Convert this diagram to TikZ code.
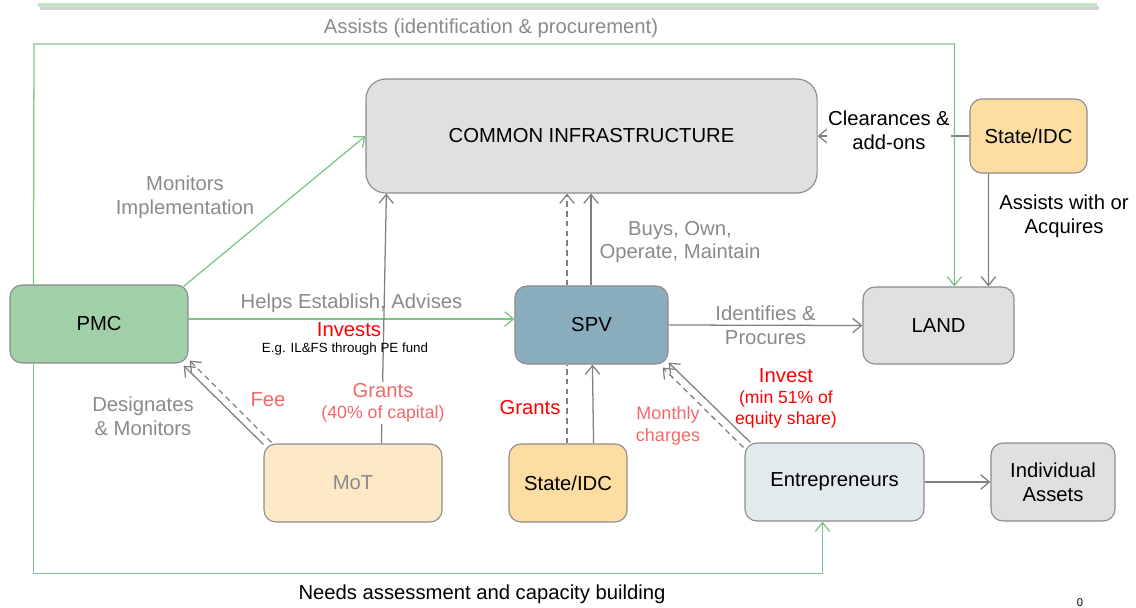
\documentclass[tikz,border=0pt]{standalone}
\usepackage{fontspec}
\setmainfont{Liberation Sans}
\usetikzlibrary{arrows.meta,calc}
\definecolor{gline}{HTML}{7DC48A}
\definecolor{topbar}{HTML}{C3E2C8}
\definecolor{aline}{HTML}{808080}
\definecolor{edge}{HTML}{8C8C8C}
\definecolor{txtgray}{HTML}{8A8A8A}
\definecolor{lightred}{HTML}{F36868}
\definecolor{pmcfill}{HTML}{A1CFA8}
\definecolor{spvfill}{HTML}{8AADBD}
\definecolor{greyfill}{HTML}{E0E0E0}
\definecolor{statefill}{HTML}{FDDDA2}
\definecolor{motfill}{HTML}{FDE9C8}
\definecolor{entfill}{HTML}{E2EAEE}
\begin{document}
\begin{tikzpicture}[x=0.025cm,y=-0.025cm,
  box/.style={draw=edge,line width=0.8pt,rounded corners=0.3cm,inner sep=0pt,
    minimum height=1.95cm,align=center,font=\fontsize{14.4}{17}\selectfont},
  lbl/.style={align=center,inner sep=1pt,font=\fontsize{14.4}{17}\selectfont},
  arrowgray/.style={draw=aline,line width=0.9pt,-{Straight Barb[length=2.2mm,width=3.6mm]}},
  arrowgreen/.style={draw=gline,line width=0.9pt,-{Straight Barb[length=2.2mm,width=3.6mm]}},
  dashgray/.style={arrowgray,dash pattern=on 4pt off 3pt}]
\useasboundingbox (0,0) rectangle (1136,607);
\draw[line width=0.12cm,black!18] (40,8) -- (1099,8);
\draw[line width=0.12cm,topbar] (38,5) -- (1097,5);

\node[box,fill=greyfill,rounded corners=0.5cm,minimum width=11.275cm,minimum height=2.85cm] (ci) at (591.5,136) {COMMON INFRASTRUCTURE};
\node[box,fill=statefill,minimum width=2.925cm,minimum height=1.85cm] (sttop) at (1028.5,136) {State/IDC};
\node[box,fill=pmcfill,minimum width=4.45cm] (pmc) at (99,324) {PMC};
\node[box,fill=spvfill,minimum width=3.825cm] (spv) at (591.5,325) {SPV};
\node[box,fill=greyfill,minimum width=3.775cm,minimum height=1.925cm] (land) at (938.5,325.5) {LAND};
\node[box,fill=motfill,text=txtgray,minimum width=4.45cm] (mot) at (353,483) {MoT};
\node[box,fill=statefill,minimum width=2.95cm] (stbot) at (568,483) {State/IDC};
\node[box,fill=entfill,minimum width=4.475cm] (ent) at (834.5,482) {Entrepreneurs};
\node[box,fill=greyfill,minimum width=3.1cm] (ind) at (1053,482) {Individual\\Assets};

\draw[arrowgray] (sttop.west) -- (ci.east);
\node[lbl,fill=white] (clr) at (889,130.5) {Clearances \&\\add-ons};
\draw[arrowgreen] ($(pmc.north west)+(24,0)$) -- (34,44) -| ($(land.north west)+(92,0)$);
\node[lbl,text=txtgray] (assist) at (491,28) {Assists (identification \& procurement)};
\draw[arrowgray] ($(sttop.south west)+(19,0)$) -- ($(land.north west)+(126,0)$);
\node[lbl] (acq) at (1064,216.5) {Assists with or\\Acquires};

\draw[arrowgreen] ($(pmc.north east)+(-5,2)$) -- (ci.west);
\node[lbl,text=txtgray] (mon) at (185,197) {Monitors\\Implementation};
\draw[arrowgreen] ($(pmc.east)+(0,-5)$) -- ($(spv.west)+(0,-6)$)
  node[midway,above=3pt,lbl,text=txtgray] (helps) {Helps Establish, Advises};

\draw[arrowgray] ($(mot.north west)+(118,0)$) -- ($(ci.south west)+(21,0)$);
\node[lbl,fill=white,text=lightred,font=\fontsize{12.6}{15}\selectfont] (grmot) at (383,403) {{\fontsize{14.4}{17}\selectfont Grants}\\(40\% of capital)};
\node[lbl,text=red] (inv) at (349,330) {Invests};
\node[lbl,font=\fontsize{9.5}{11}\selectfont] (eg) at (345,349) {E.g. IL\&FS through PE fund};

\draw[arrowgray] (spv.north -| 591,0) -- (ci.south -| 591,0);
\node[lbl,text=txtgray] (buys) at (680,242) {Buys, Own,\\Operate, Maintain};
\draw[dashgray,-] (stbot.north -| 567,0) -- (spv.south -| 567,0);
\draw[dashgray] (spv.north -| 567,0) -- (ci.south -| 567,0);
\draw[arrowgray] ($(stbot.north east)+(-34,0)$) -- ($(spv.south west)+(78,0)$);
\node[lbl,text=red] (grst) at (530,408) {Grants};

\draw[arrowgray] (spv.east) -- (land.west)
  node[midway,lbl,text=txtgray] (ident) {Identifies \&\\Procures};

\draw[arrowgray] ($(ent.north west)+(6,0)$) -- ($(spv.south east)+(0,-2)$);
\draw[dashgray] ($(ent.north west)+(-1,5)$) -- ($(spv.south east)+(-6,3)$);
\node[lbl,text=lightred,font=\fontsize{12.8}{15.5}\selectfont] (month) at (668,426) {Monthly\\charges};
\node[lbl,text=red,font=\fontsize{12.5}{15}\selectfont] (inv51) at (786,398) {{\fontsize{14.4}{17}\selectfont Invest}\\(min 51\% of\\equity share)};
\draw[arrowgray] (ent.east) -- (ind.west);

\draw[arrowgray] ($(mot.north west)+(0,1)$) -- ($(pmc.south east)+(-5,2)$);
\draw[dashgray] ($(mot.north west)+(8,-1)$) -- ($(pmc.south east)+(1,-3)$);
\node[lbl,text=txtgray] (desig) at (143,416.5) {Designates\\\& Monitors};
\node[lbl,text=lightred] (fee) at (268,400) {Fee};

\draw[arrowgreen] ($(pmc.south west)+(24,0)$) |- ($(ent.south)+(-12,52)$) -- ($(ent.south)+(-12,0)$);
\node[lbl] (needs) at (482,594) {Needs assessment and capacity building};
\node[lbl,font=\fontsize{8}{9}\selectfont] (pg) at (1080,603) {0};
\end{tikzpicture}
\end{document}
